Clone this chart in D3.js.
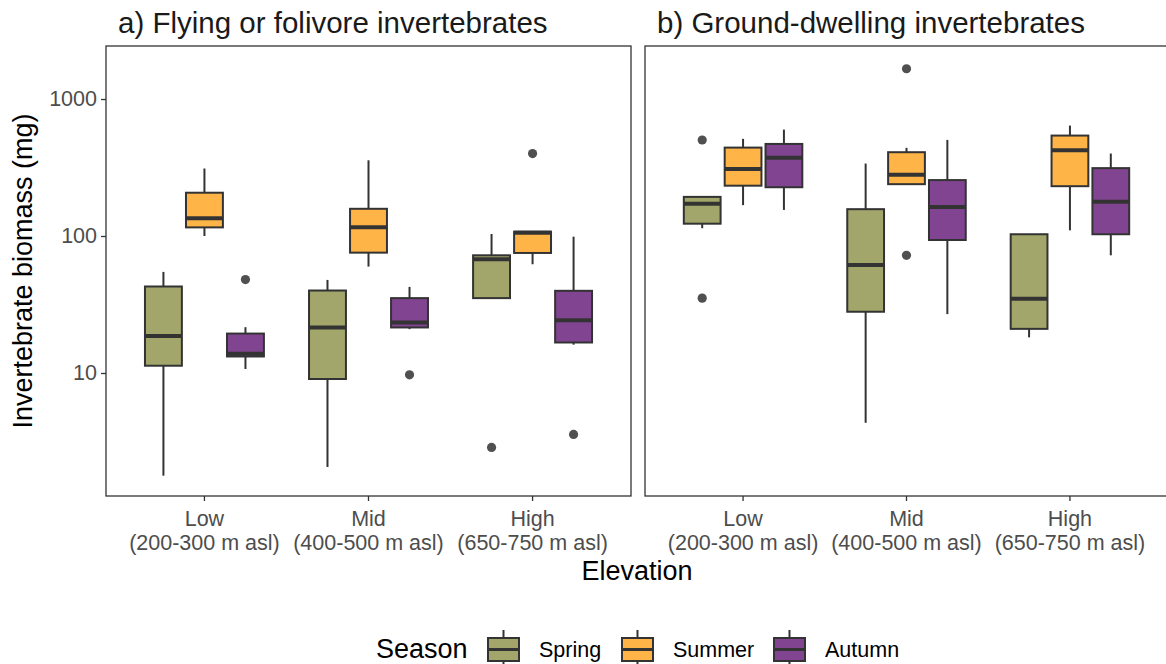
<!DOCTYPE html>
<html>
<head>
<meta charset="utf-8">
<script src="https://cdn.jsdelivr.net/npm/d3@7"></script>
<style>
  body { margin: 0; background: #fff; }
  text { font-family: "Liberation Sans", Arial, sans-serif; }
</style>
</head>
<body>
<svg id="chart"></svg>
<script>
var panelTitles = ["a) Flying or folivore invertebrates", "b) Ground-dwelling invertebrates"];
var elevations = ["Low", "Mid", "High"];
var elevationRanges = ["(200-300 m asl)", "(400-500 m asl)", "(650-750 m asl)"];
var seasons = ["Spring", "Summer", "Autumn"];
var seasonColors = ["#a2a66a", "#feb447", "#804491"];
var yTicks = [10, 100, 1000];

// box stats per elevation x season: [whisker low, q1, median, q3, whisker high]
var flyingStats = [
  [1.78, 11.3, 18.6, 42.8, 54.7],
  [100, 115.6, 134.5, 207, 311],
  [10.7, 13.2, 13.8, 19.4, 21.6],
  [2.06, 9.04, 21.5, 40, 47.8],
  [59.8, 75.6, 116, 158, 357],
  [20.9, 21.5, 23.4, 35.2, 42.5],
  [35.2, 35.2, 67.6, 72.3, 103.5],
  [62.2, 75.2, 105.8, 107.6, 107.6],
  [16.1, 16.7, 24.3, 39.8, 98.9]
];
var groundStats = [
  [114, 123, 172, 193, 193],
  [168, 233, 309, 442, 512],
  [155, 227, 372, 470, 598],
  [4.33, 28, 61.5, 157, 338],
  [239, 239, 280, 409, 440],
  [26.9, 93.5, 163, 256, 503],
  [18.2, 21, 34.8, 103, 103],
  [110, 231, 423, 541, 640],
  [72.3, 103, 178, 313, 400]
];
// outliers: [elevation index, season index, value]
var flyingOutliers = [[0, 2, 48.1], [1, 2, 9.7], [2, 0, 2.86], [2, 1, 400], [2, 2, 3.56]];
var groundOutliers = [[0, 0, 502], [0, 0, 35.2], [1, 1, 1663], [1, 1, 72.3]];

var width = 1166, height = 664;
var panels = [
  { left: 106, right: 631, stats: flyingStats, outliers: flyingOutliers },
  { left: 645, right: 1168, stats: groundStats, outliers: groundOutliers }
];
var plotTop = 46, plotBottom = 496;
var dark = "#333333", axisGrey = "#4d4d4d", pointGrey = "#505050";

var svg = d3.select("#chart")
  .attr("width", width)
  .attr("height", height);

var y = d3.scaleLog()
  .domain([1.265, 2438])
  .range([plotBottom, plotTop]);

panels.forEach(function(p, pi) {
  // discrete scale expanded by 0.6 on each side, like ggplot
  var x = d3.scaleLinear()
    .domain([0.4, 3.6])
    .range([p.left, p.right]);
  var unit = x(2) - x(1);
  var boxW = unit * 0.225;
  var dodge = unit * 0.25;

  var g = svg.append("g");

  g.append("rect")
    .attr("x", p.left).attr("y", plotTop)
    .attr("width", p.right - p.left).attr("height", plotBottom - plotTop)
    .attr("fill", "#fff");

  g.append("text")
    .attr("x", p.left + 12).attr("y", 33)
    .attr("font-size", 29.5)
    .attr("fill", "#1a1a1a")
    .text(panelTitles[pi]);

  var rows = [];
  p.stats.forEach(function(s, i) {
    rows.push({ e: Math.floor(i / 3), s: i % 3, v: s });
  });

  var cx = function(d) { return x(d.e + 1) + (d.s - 1) * dodge; };

  var box = g.selectAll("g.box")
    .data(rows)
    .enter().append("g")
    .attr("class", "box");

  box.append("line")
    .attr("x1", cx).attr("x2", cx)
    .attr("y1", function(d) { return y(d.v[4]); })
    .attr("y2", function(d) { return y(d.v[3]); })
    .attr("stroke", dark).attr("stroke-width", 2);
  box.append("line")
    .attr("x1", cx).attr("x2", cx)
    .attr("y1", function(d) { return y(d.v[1]); })
    .attr("y2", function(d) { return y(d.v[0]); })
    .attr("stroke", dark).attr("stroke-width", 2);
  box.append("rect")
    .attr("x", function(d) { return cx(d) - boxW / 2; })
    .attr("y", function(d) { return y(d.v[3]); })
    .attr("width", boxW)
    .attr("height", function(d) { return y(d.v[1]) - y(d.v[3]); })
    .attr("fill", function(d) { return seasonColors[d.s]; })
    .attr("stroke", dark).attr("stroke-width", 2);
  box.append("line")
    .attr("x1", function(d) { return cx(d) - boxW / 2; })
    .attr("x2", function(d) { return cx(d) + boxW / 2; })
    .attr("y1", function(d) { return y(d.v[2]); })
    .attr("y2", function(d) { return y(d.v[2]); })
    .attr("stroke", dark).attr("stroke-width", 4);

  g.selectAll("circle.out")
    .data(p.outliers)
    .enter().append("circle")
    .attr("class", "out")
    .attr("cx", function(d) { return x(d[0] + 1) + (d[1] - 1) * dodge; })
    .attr("cy", function(d) { return y(d[2]); })
    .attr("r", 4.6)
    .attr("fill", pointGrey);

  g.append("rect")
    .attr("x", p.left).attr("y", plotTop)
    .attr("width", p.right - p.left).attr("height", plotBottom - plotTop)
    .attr("fill", "none")
    .attr("stroke", dark).attr("stroke-width", 1.3);

  // x axis
  var xAxis = g.append("g").attr("transform", "translate(0," + plotBottom + ")");
  elevations.forEach(function(lab, i) {
    var px = x(i + 1);
    xAxis.append("line")
      .attr("x1", px).attr("x2", px).attr("y1", 0).attr("y2", 5)
      .attr("stroke", dark).attr("stroke-width", 1.3);
    xAxis.append("text")
      .attr("x", px).attr("y", 30)
      .attr("text-anchor", "middle")
      .attr("font-size", 21.5)
      .attr("fill", axisGrey)
      .text(lab);
    xAxis.append("text")
      .attr("x", px).attr("y", 54)
      .attr("text-anchor", "middle")
      .attr("font-size", 21.5)
      .attr("fill", axisGrey)
      .text(elevationRanges[i]);
  });

  if (pi === 0) {
    var yAxis = d3.axisLeft(y)
      .tickValues(yTicks)
      .tickFormat(d3.format("d"))
      .tickSize(5)
      .tickPadding(4);
    var ya = svg.append("g")
      .attr("transform", "translate(" + p.left + ",0)")
      .call(yAxis);
    ya.select(".domain").remove();
    ya.selectAll(".tick line").attr("stroke", dark).attr("stroke-width", 1.3);
    ya.selectAll(".tick text")
      .attr("font-size", 21.5)
      .attr("fill", axisGrey)
      .attr("font-family", "Liberation Sans, Arial, sans-serif");
  }
});

svg.append("text")
  .attr("transform", "translate(32," + ((plotTop + plotBottom) / 2) + ") rotate(-90)")
  .attr("text-anchor", "middle")
  .attr("font-size", 27)
  .attr("fill", "#000")
  .text("Invertebrate biomass (mg)");

svg.append("text")
  .attr("x", (106 + 1168) / 2).attr("y", 580)
  .attr("text-anchor", "middle")
  .attr("font-size", 27)
  .attr("fill", "#000")
  .text("Elevation");

// legend
var legend = svg.append("g");
legend.append("text")
  .attr("x", 376).attr("y", 658)
  .attr("font-size", 27)
  .attr("fill", "#000")
  .text("Season");

var keyX = [487, 621, 773];
seasons.forEach(function(s, i) {
  var kx = keyX[i], kc = kx + 16.5;
  legend.append("line")
    .attr("x1", kc).attr("x2", kc).attr("y1", 630).attr("y2", 666)
    .attr("stroke", dark).attr("stroke-width", 2);
  legend.append("rect")
    .attr("x", kx + 1).attr("y", 638)
    .attr("width", 31).attr("height", 23)
    .attr("fill", seasonColors[i])
    .attr("stroke", dark).attr("stroke-width", 2);
  legend.append("line")
    .attr("x1", kx + 1).attr("x2", kx + 32).attr("y1", 649.5).attr("y2", 649.5)
    .attr("stroke", dark).attr("stroke-width", 3);
  legend.append("text")
    .attr("x", kx + 52).attr("y", 657)
    .attr("font-size", 21.5)
    .attr("fill", "#000")
    .text(s);
});
</script>
</body>
</html>
